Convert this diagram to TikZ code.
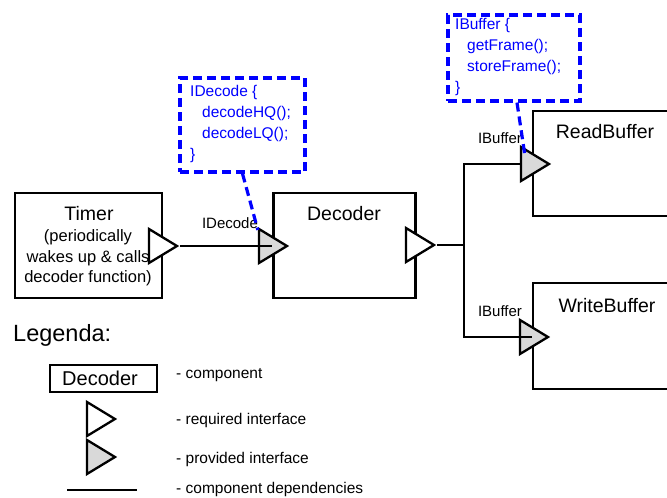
\documentclass[tikz,border=0pt]{standalone}
\usepackage{fontspec}
\setmainfont{Liberation Sans}
\usetikzlibrary{shapes.geometric,calc}
\tikzset{
  comp/.style={draw, line width=2.3pt, fill=white, inner sep=0pt},
  iface/.style={draw, line width=2.3pt, isosceles triangle, isosceles triangle stretches,
    minimum width=34pt, minimum height=28pt, inner sep=0pt, anchor=apex},
  reqif/.style={iface, fill=white},
  provif/.style={iface, fill=black!15},
  dep/.style={line width=2.3pt},
  title/.style={font=\fontsize{19.5}{22}\selectfont, inner sep=0pt},
  desc/.style={font=\fontsize{16.5}{20.5}\selectfont, align=center, inner sep=0pt},
  ilabel/.style={font=\fontsize{15}{17}\selectfont, inner sep=0pt},
  note/.style={draw=blue, line width=3.2pt, dash pattern=on 9pt off 5pt},
  notetext/.style={text=blue, font=\fontsize{15.5}{21}\selectfont, align=left, inner sep=0pt, anchor=north west},
  notelink/.style={draw=blue, line width=3.2pt, dash pattern=on 9pt off 5pt},
  legtext/.style={font=\fontsize{15.5}{17}\selectfont, inner sep=0pt, anchor=west},
}
\begin{document}
\begin{tikzpicture}[x=1pt, y=-1pt]
\useasboundingbox (0,0) rectangle (667,498);
\clip (0,0) rectangle (667,498);

% components
\node[comp, minimum width=147pt, minimum height=105pt] (timer) at (88.5,245.5) {};
\node[title] (timerT) at (89,214) {Timer};
\node[desc] (timerD) at (88,258) {(periodically\\wakes up \& calls\\decoder function)};

\node[comp, minimum width=142pt, minimum height=105pt] (decoder) at (344.5,245.5) {};
\node[title] (decoderT) at (344,214) {Decoder};

\node[comp, minimum width=160pt, minimum height=105pt] (readbuf) at (613,163.5) {};
\node[title] (readbufT) at (605,132) {ReadBuffer};

\node[comp, minimum width=160pt, minimum height=106pt] (writebuf) at (613,336) {};
\node[title] (writebufT) at (607,306) {WriteBuffer};

% interfaces
\node[reqif] (timerReq) at (180,246) {};
\node[provif] (decProv) at (290,246) {};
\node[reqif] (decReq) at (437,245) {};
\node[provif] (rbProv) at (552,164) {};
\node[provif] (wbProv) at (551,337) {};

% dependencies
\coordinate (junc) at (464,245);
\draw[dep] (timerReq.apex) -- (decoder.west |- timerReq.apex);
\draw[dep] (decReq.apex) -- (junc);
\draw[dep] (junc) |- (rbProv.west);
\draw[dep] (junc) |- (writebuf.west |- wbProv.apex);

% interface labels
\node[ilabel] (lblIDec) at (230,223) {IDecode};
\node[ilabel] (lblIBufR) at (500,138) {IBuffer};
\node[ilabel] (lblIBufW) at (500,311) {IBuffer};

% interface notes
\node[note, minimum width=125pt, minimum height=94pt] (noteDec) at (242.5,125) {};
\node[notetext] (noteDecT) at (190,85) {IDecode \{\\\hspace*{12pt}decodeHQ();\\\hspace*{12pt}decodeLQ();\\\}};
\draw[notelink] (noteDec.south) -- ($(decProv.left corner)+(0,3)$);

\node[note, minimum width=132pt, minimum height=86pt] (noteBuf) at (514,58) {};
\node[notetext] (noteBufT) at (455,18) {IBuffer \{\\\hspace*{12pt}getFrame();\\\hspace*{12pt}storeFrame();\\\}};
\draw[notelink] ($(noteBuf.south)+(3,0)$) -- ($(rbProv.left corner)+(5,10)$);

% legend
\node[font=\fontsize{23.5}{25}\selectfont, inner sep=0pt, anchor=west] (legT) at (13,335) {Legenda:};
\node[comp, minimum width=107pt, minimum height=27pt] (legComp) at (103.5,378.5) {};
\node[font=\fontsize{20}{22}\selectfont, inner sep=0pt] (legCompL) at (100,378.5) {Decoder};
\node[legtext] (legCompT) at (176,375) {- component};
\node[reqif] (legReq) at (118,419) {};
\node[legtext] (legReqT) at (176,420) {- required interface};
\node[provif] (legProv) at (118,457) {};
\node[legtext] (legProvT) at (176,459) {- provided interface};
\coordinate (legDepA) at (67,490);
\coordinate (legDepB) at (137,490);
\draw[dep] (legDepA) -- (legDepB);
\node[legtext] (legDepT) at (176,489) {- component dependencies};
\end{tikzpicture}
\end{document}
